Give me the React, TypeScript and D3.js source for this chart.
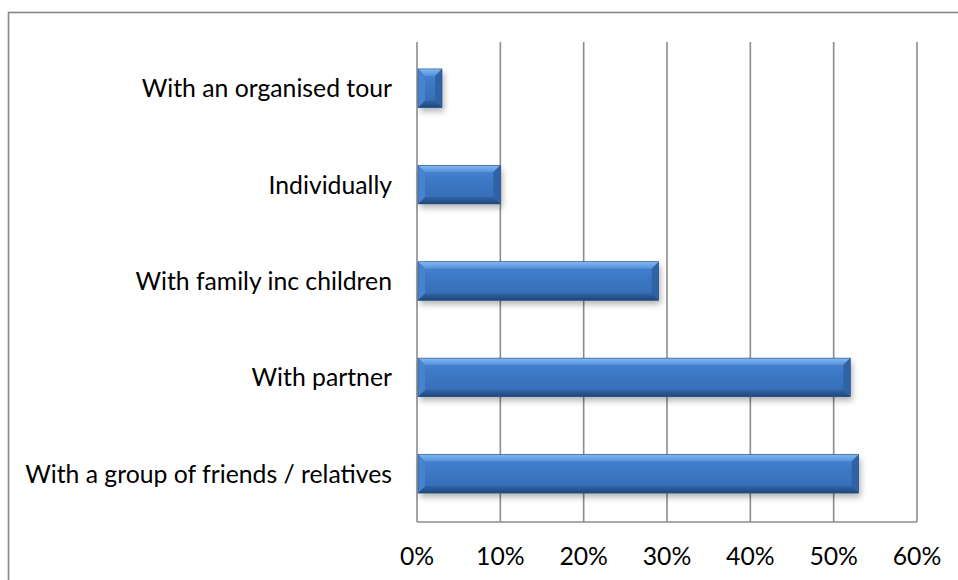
import React, { useLayoutEffect, useRef, useState } from "react";
import * as d3 from "d3";

const categories = [
  "With an organised tour",
  "Individually",
  "With family inc children",
  "With partner",
  "With a group of friends / relatives",
];
const values = [0.03, 0.1, 0.29, 0.52, 0.53];
const ticks = [0, 0.1, 0.2, 0.3, 0.4, 0.5, 0.6];

const W = 958;
const H = 580;
const FONT = "Lato, 'Open Sans', sans-serif";

export default function App() {
  const measureRef = useRef<SVGTextElement>(null);
  const [fs, setFs] = useState(26);

  useLayoutEffect(() => {
    if (measureRef.current) {
      const w = measureRef.current.getComputedTextLength();
      if (w > 0) {
        const target = 367;
        const nf = (26 * target) / w;
        if (Math.abs(nf - fs) > 0.05) setFs(nf);
      }
    }
  }, []);

  const x = d3.scaleLinear().domain([0, 0.6]).range([417, 917]);
  const y = d3
    .scaleBand<string>()
    .domain(categories)
    .range([40, 522])
    .paddingInner(0.6)
    .paddingOuter(0.3);
  const bw = y.bandwidth();

  const bars = categories.map((c, i) => {
    const x0 = x(0) + 1;
    const x1 = x(values[i]);
    const y0 = y(c)!;
    const y1 = y0 + bw;
    const b = Math.min(7, (x1 - x0) / 2);
    return { c, x0, x1, y0, y1, b };
  });

  return (
    <svg
      width={W}
      height={H}
      style={{ position: "absolute", left: 0, top: 0, background: "#fff" }}
      fontFamily={FONT}
    >
      <defs>
        <linearGradient id="body" x1="0" y1="0" x2="0" y2="1">
          <stop offset="0" stopColor="#4884d2" />
          <stop offset="0.5" stopColor="#3b76c3" />
          <stop offset="1" stopColor="#356ab2" />
        </linearGradient>
        <linearGradient id="topb" x1="0" y1="0" x2="0" y2="1">
          <stop offset="0" stopColor="#86b8ee" />
          <stop offset="1" stopColor="#5390da" />
        </linearGradient>
        <linearGradient id="botb" x1="0" y1="0" x2="0" y2="1">
          <stop offset="0" stopColor="#3165a8" />
          <stop offset="1" stopColor="#1e4678" />
        </linearGradient>
        <filter id="shadow" x="-10%" y="-30%" width="130%" height="180%">
          <feGaussianBlur stdDeviation="3" />
        </filter>
      </defs>

      <rect
        x={8.5}
        y={12.5}
        width={W + 10}
        height={H + 10}
        fill="#fff"
        stroke="#888"
        strokeWidth={1.6}
      />

      {ticks.map((t) => (
        <line
          key={"g" + t}
          x1={x(t)}
          x2={x(t)}
          y1={42}
          y2={522}
          stroke="#8c8c8c"
          strokeWidth={1.6}
        />
      ))}
      <line x1={x(0)} x2={x(0.6)} y1={522} y2={522} stroke="#8c8c8c" strokeWidth={1.6} />

      {bars.map((d) => (
        <g key={d.c}>
          <rect
            x={d.x0 + 2}
            y={d.y0 + 4}
            width={d.x1 - d.x0}
            height={d.y1 - d.y0}
            fill="#000"
            opacity={0.3}
            filter="url(#shadow)"
          />
          <rect x={d.x0} y={d.y0} width={d.x1 - d.x0} height={d.y1 - d.y0} fill="url(#body)" />
          <polygon
            points={`${d.x0},${d.y0} ${d.x1},${d.y0} ${d.x1 - d.b},${d.y0 + d.b} ${d.x0 + d.b},${d.y0 + d.b}`}
            fill="url(#topb)"
          />
          <polygon
            points={`${d.x0},${d.y1} ${d.x1},${d.y1} ${d.x1 - d.b},${d.y1 - d.b} ${d.x0 + d.b},${d.y1 - d.b}`}
            fill="url(#botb)"
          />
          <polygon
            points={`${d.x0},${d.y0} ${d.x0 + d.b},${d.y0 + d.b} ${d.x0 + d.b},${d.y1 - d.b} ${d.x0},${d.y1}`}
            fill="#4883d0"
          />
          <polygon
            points={`${d.x1},${d.y0} ${d.x1 - d.b},${d.y0 + d.b} ${d.x1 - d.b},${d.y1 - d.b} ${d.x1},${d.y1}`}
            fill="#3063a6"
          />
          <rect
            x={d.x0}
            y={d.y0}
            width={d.x1 - d.x0}
            height={d.y1 - d.y0}
            fill="none"
            stroke="#23518c"
            strokeWidth={0.6}
          />
        </g>
      ))}

      {categories.map((c) => (
        <text
          key={c}
          ref={c === categories[4] ? measureRef : undefined}
          x={392}
          y={y(c)! + bw / 2 + 9}
          textAnchor="end"
          fontSize={fs}
          fill="#000"
        >
          {c}
        </text>
      ))}

      {ticks.map((t) => (
        <text key={"t" + t} x={x(t)} y={565} textAnchor="middle" fontSize={fs} fill="#000">
          {d3.format(".0%")(t)}
        </text>
      ))}
    </svg>
  );
}
